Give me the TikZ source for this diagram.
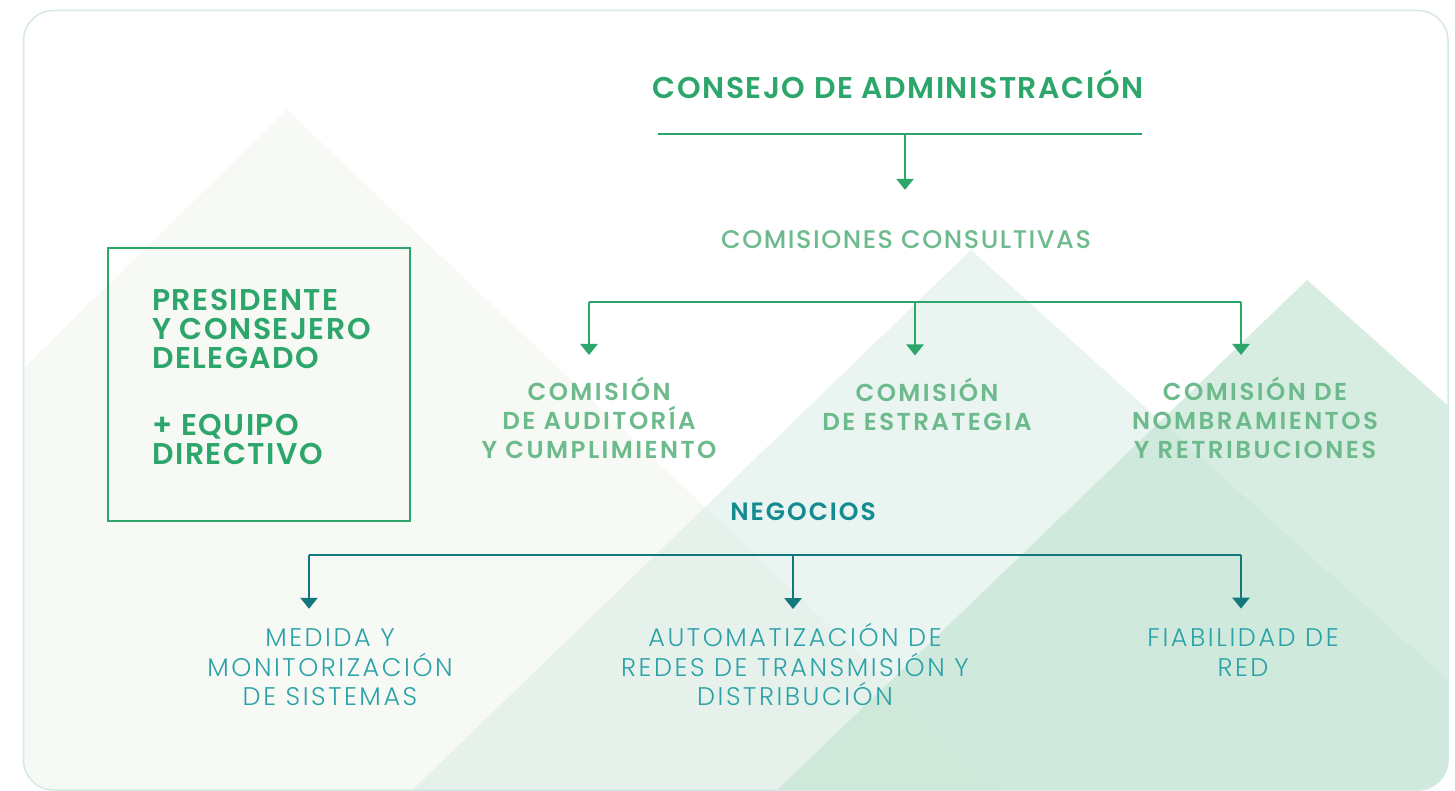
\documentclass[tikz,border=0pt]{standalone}
\usepackage{fontspec}
\setmainfont{Poppins}
\newfontfamily\fheadb{Poppins SemiBold}[LetterSpace=5]
\newfontfamily\fcomb{Poppins SemiBold}[LetterSpace=10]
\newfontfamily\fnegb{Poppins SemiBold}[LetterSpace=8]
\newfontfamily\fmed{Poppins Medium}[LetterSpace=6]
\newfontfamily\flight{Poppins Light}[LetterSpace=10]
\usetikzlibrary{arrows.meta}
\definecolor{dgreen}{HTML}{2DA66B}
\definecolor{lgreen}{HTML}{6DBB8D}
\definecolor{dteal}{HTML}{13787D}
\definecolor{mteal}{HTML}{128B91}
\definecolor{lteal}{HTML}{2BA2A8}
\definecolor{framec}{HTML}{D2E9E8}
\definecolor{mtone}{HTML}{F7F9F5}
\definecolor{mtwo}{RGB}{215,235,229}
\definecolor{mthree}{RGB}{194,228,209}
\tikzset{
  headbold/.style={inner sep=0pt, text=dgreen, font=\fheadb\fontsize{30}{29}\selectfont},
  boxtext/.style={inner sep=0pt, text=dgreen, align=left, font=\fheadb\fontsize{30}{29}\selectfont},
  consult/.style={inner sep=0pt, text=lgreen, font=\fmed\fontsize{25.5}{29}\selectfont},
  commtext/.style={inner sep=0pt, text=lgreen, align=center, font=\fcomb\fontsize{24.5}{29}\selectfont},
  negtext/.style={inner sep=0pt, text=mteal, font=\fnegb\fontsize{25}{29}\selectfont},
  bottext/.style={inner sep=0pt, text=lteal, align=center, font=\flight\fontsize{25.5}{29.5}\selectfont},
  greenline/.style={draw=dgreen, line width=2.6pt},
  tealline/.style={draw=dteal, line width=2.6pt},
  greenarr/.style={greenline, -{Triangle[width=17pt,length=11pt]}},
  tealarr/.style={tealline, -{Triangle[width=17pt,length=11pt]}},
  mainbox/.style={draw=dgreen, line width=2.6pt, minimum width=302pt, minimum height=273pt, inner sep=0pt}
}
\begin{document}
\begin{tikzpicture}[x=1pt,y=-1pt]
\useasboundingbox (0,0) rectangle (1455,791);
\fill[white] (0,0) rectangle (1455,791);
% background mountains
\begin{scope}
\clip[rounded corners=30pt] (23.5,10.5) rectangle (1448,790);
\fill[mtone] (287,110) -- (-100,489) -- (-100,800) -- (1013,800) -- cycle;
\fill[mtwo, fill opacity=0.5] (971,250) -- (402,800) -- (1500,800) -- (1500,727) -- cycle;
\fill[mthree, fill opacity=0.65] (1307,280) -- (767,800) -- (1500,800) -- (1500,452) -- cycle;
\end{scope}
\draw[framec, line width=1.5pt, rounded corners=30pt] (23.5,10.5) rectangle (1448,790);

% top
\node[headbold, anchor=base] (cons) at (898,99) {CONSEJO DE ADMINISTRACIÓN};
\coordinate (barL) at (658,134);
\coordinate (barR) at (1142,134);
\coordinate (barM) at (905,134);
\draw[greenline] (barL) -- (barR);
\node[consult, anchor=base] (cc) at (906,249) {COMISIONES CONSULTIVAS};
\draw[greenarr, shorten >=41pt] (barM) -- (barM |- cc.north);

% commissions
\coordinate (c1) at (589,302);
\coordinate (c2) at (915,302);
\coordinate (c3) at (1241,302);
\node[commtext] (aud) at (599,418) {COMISIÓN\\DE AUDITORÍA\\Y CUMPLIMIENTO};
\node[commtext] (est) at (927,404) {COMISIÓN\\DE ESTRATEGIA};
\node[commtext] (nom) at (1255,418) {COMISIÓN DE\\NOMBRAMIENTOS\\Y RETRIBUCIONES};
\draw[greenline] (c1) -- (c3);
\draw[greenarr, shorten >=22pt] (c1) -- (c1 |- aud.north);
\draw[greenarr, shorten >=22pt] (c2) -- (c2 |- est.north);
\draw[greenarr, shorten >=22pt] (c3) -- (c3 |- nom.north);

% box
\node[mainbox] (box) at (259,384.5) {};
\node[boxtext, anchor=west] (pres) at (152,377) {PRESIDENTE\\Y CONSEJERO\\DELEGADO\\[38pt]+ EQUIPO\\DIRECTIVO};

% negocios
\node[negtext, anchor=base] (neg) at (803,520) {NEGOCIOS};
\coordinate (n1) at (309,555);
\coordinate (n2) at (793,555);
\coordinate (n3) at (1241,555);
\node[bottext] (med) at (330,667.5) {MEDIDA Y\\MONITORIZACIÓN\\DE SISTEMAS};
\node[bottext] (aut) at (795,664.5) {AUTOMATIZACIÓN DE\\REDES DE TRANSMISIÓN Y\\DISTRIBUCIÓN};
\node[bottext] (fia) at (1243,652.5) {FIABILIDAD DE\\RED};
\draw[tealline] (n1) -- (n3);
\draw[tealarr, shorten >=20pt] (n1) -- (n1 |- med.north);
\draw[tealarr, shorten >=14pt] (n2) -- (n2 |- aut.north);
\draw[tealarr, shorten >=20pt] (n3) -- (n3 |- fia.north);
\end{tikzpicture}
\end{document}
